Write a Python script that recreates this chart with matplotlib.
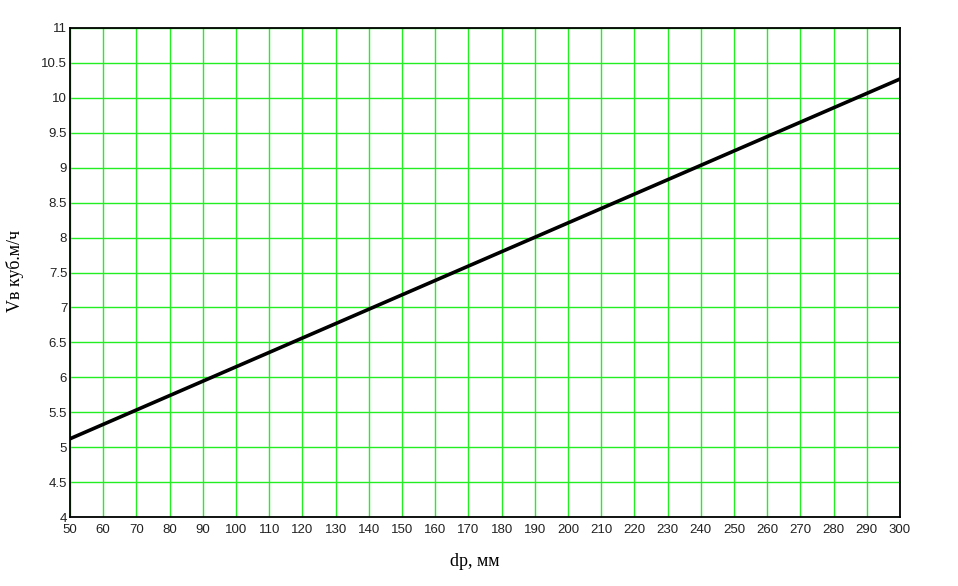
import matplotlib
matplotlib.use("Agg")
import matplotlib.pyplot as plt
import numpy as np

# Data
dp_mm = [50, 100, 150, 200, 250, 300]
vb_m3h = [5.12, 6.15, 7.18, 8.21, 9.24, 10.27]

x_ticks = list(range(50, 301, 10))
y_ticks = [4, 4.5, 5, 5.5, 6, 6.5, 7, 7.5, 8, 8.5, 9, 9.5, 10, 10.5, 11]
y_tick_labels = ["4", "4.5", "5", "5.5", "6", "6.5", "7", "7.5", "8", "8.5", "9", "9.5", "10", "10.5", "11"]

fig = plt.figure(figsize=(9.58, 5.86), dpi=100)
ax = fig.add_axes([70/958, 69/586, 830/958, 489/586])

ax.plot(dp_mm, vb_m3h, color="black", linewidth=2.6, zorder=3)

ax.set_xlim(50, 300)
ax.set_ylim(4, 11)
ax.set_xticks(x_ticks)
ax.set_xticklabels([str(v) for v in x_ticks])
ax.set_yticks(y_ticks)
ax.set_yticklabels(y_tick_labels)

ax.grid(True, color="#22ee22", linewidth=1.0, zorder=1)
ax.set_axisbelow(True)

for s in ax.spines.values():
    s.set_color("black")
    s.set_linewidth(1.3)

ax.tick_params(axis="both", length=0, labelsize=9.5, colors="#222222")
ax.tick_params(axis="x", pad=5)
ax.tick_params(axis="y", pad=2)
for lab in ax.get_xticklabels() + ax.get_yticklabels():
    lab.set_fontfamily("Liberation Sans")

fig.text(475/958, 1 - 562/586, "dp, мм", ha="center", va="center",
         fontsize=13, family="Liberation Serif")
fig.text(15/958, 1 - 271/586, "Vв куб.м/ч", ha="center", va="center",
         rotation=90, fontsize=13, family="Liberation Serif")

fig.savefig("out.png", dpi=100, facecolor="white")
